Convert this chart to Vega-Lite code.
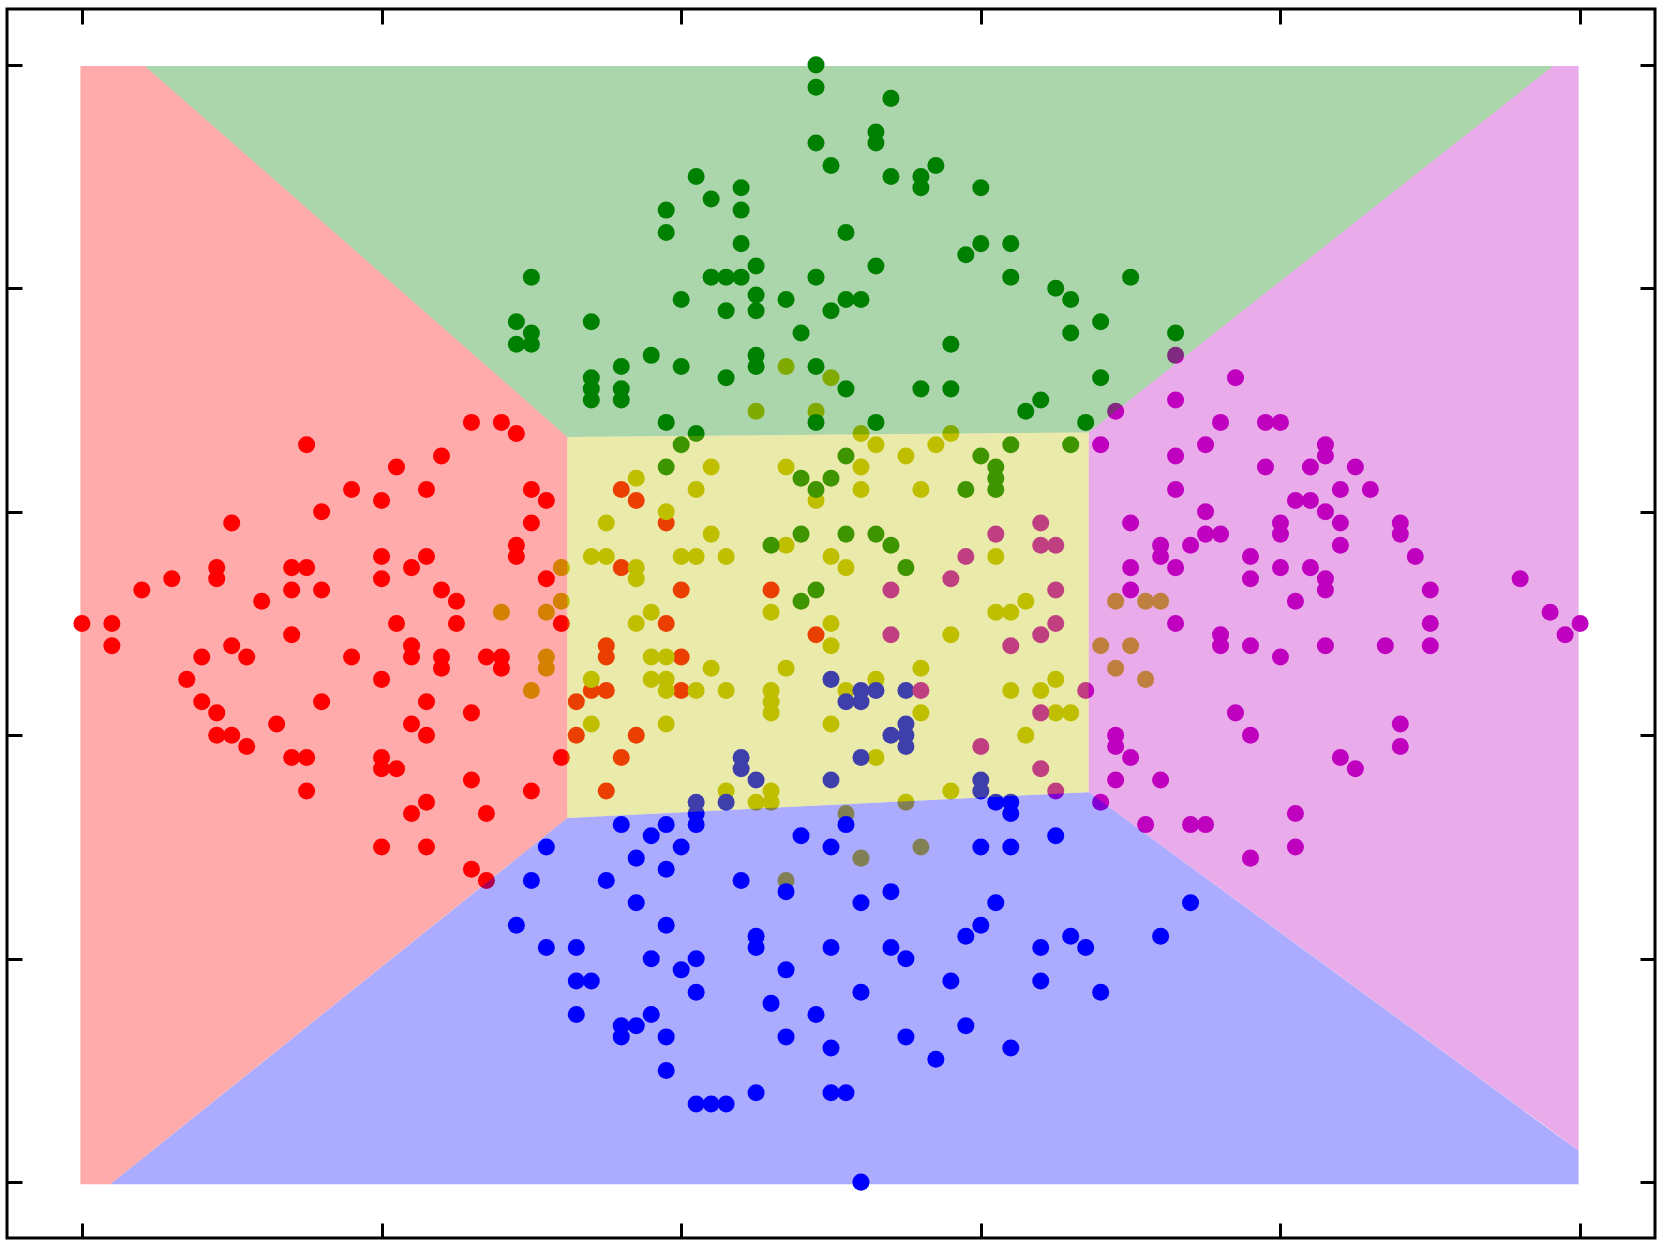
{
"$schema":"https://vega.github.io/schema/vega-lite/v6.json",
"width":1648,"height":1229,
"autosize":{"type":"none"},
"padding":{"left":7,"top":9,"right":6,"bottom":6},
"background":"white",
"config":{"view":{"stroke":"black","strokeWidth":3}},
"datasets":{
"regions":[
{"c":"r","x":-0.1,"t":99.9,"b":-0.2},{"c":"r","x":1.9,"t":99.9,"b":-0.2},{"c":"r","x":4.2,"t":99.9,"b":2.3},{"c":"r","x":32.4,"t":66.7,"b":32.6},
{"c":"g","x":4.2,"t":99.9,"b":99.9},{"c":"g","x":32.4,"t":99.9,"b":66.7},{"c":"g","x":67.2,"t":99.9,"b":67.1},{"c":"g","x":98.2,"t":99.9,"b":99.9},
{"c":"m","x":67.2,"t":67.1,"b":34.9},{"c":"m","x":98.2,"t":99.9,"b":4.5},{"c":"m","x":99.9,"t":99.9,"b":2.8},
{"c":"b","x":1.9,"t":-0.2,"b":-0.2},{"c":"b","x":32.4,"t":32.6,"b":-0.2},{"c":"b","x":67.2,"t":34.9,"b":-0.2},{"c":"b","x":99.9,"t":2.8,"b":-0.2},
{"c":"y","x":32.4,"t":66.7,"b":32.6},{"c":"y","x":67.2,"t":67.1,"b":34.9}
],
"pts":[
{"x":26,"y":68,"c":"r"},{"x":28,"y":68,"c":"r"},{"x":29,"y":67,"c":"r"},{"x":15,"y":66,"c":"r"},{"x":21,"y":64,"c":"r"},{"x":18,"y":62,"c":"r"},{"x":20,"y":61,"c":"r"},{"x":16,"y":60,"c":"r"},{"x":10,"y":59,"c":"r"},{"x":20,"y":56,"c":"r"},{"x":9,"y":55,"c":"r"},{"x":9,"y":54,"c":"r"},{"x":14,"y":55,"c":"r"},{"x":15,"y":55,"c":"r"},{"x":20,"y":54,"c":"r"},{"x":22,"y":55,"c":"r"},{"x":6,"y":54,"c":"r"},{"x":4,"y":53,"c":"r"},{"x":14,"y":53,"c":"r"},{"x":16,"y":53,"c":"r"},{"x":12,"y":52,"c":"r"},{"x":0,"y":50,"c":"r"},{"x":2,"y":50,"c":"r"},{"x":2,"y":48,"c":"r"},{"x":14,"y":49,"c":"r"},{"x":21,"y":50,"c":"r"},{"x":10,"y":48,"c":"r"},{"x":11,"y":47,"c":"r"},{"x":8,"y":47,"c":"r"},{"x":18,"y":47,"c":"r"},{"x":22,"y":48,"c":"r"},{"x":22,"y":47,"c":"r"},{"x":7,"y":45,"c":"r"},{"x":20,"y":45,"c":"r"},{"x":8,"y":43,"c":"r"},{"x":16,"y":43,"c":"r"},{"x":9,"y":42,"c":"r"},{"x":13,"y":41,"c":"r"},{"x":9,"y":40,"c":"r"},{"x":10,"y":40,"c":"r"},{"x":11,"y":39,"c":"r"},{"x":14,"y":38,"c":"r"},{"x":15,"y":38,"c":"r"},{"x":20,"y":38,"c":"r"},{"x":20,"y":37,"c":"r"},{"x":21,"y":37,"c":"r"},{"x":15,"y":35,"c":"r"},{"x":22,"y":41,"c":"r"},{"x":22,"y":33,"c":"r"},
{"x":24,"y":65,"c":"r"},{"x":23,"y":62,"c":"r"},{"x":30,"y":62,"c":"r"},{"x":31,"y":61,"c":"r"},{"x":36,"y":62,"c":"r"},{"x":37,"y":61,"c":"r"},{"x":39,"y":59,"c":"r"},{"x":30,"y":59,"c":"r"},{"x":29,"y":57,"c":"r"},{"x":29,"y":56,"c":"r"},{"x":23,"y":56,"c":"r"},{"x":36,"y":55,"c":"r"},{"x":31,"y":54,"c":"r"},{"x":24,"y":53,"c":"r"},{"x":25,"y":52,"c":"r"},{"x":40,"y":53,"c":"r"},{"x":46,"y":53,"c":"r"},{"x":25,"y":50,"c":"r"},{"x":32,"y":50,"c":"r"},{"x":39,"y":50,"c":"r"},{"x":49,"y":49,"c":"r"},{"x":35,"y":48,"c":"r"},{"x":35,"y":47,"c":"r"},{"x":24,"y":47,"c":"r"},{"x":24,"y":46,"c":"r"},{"x":27,"y":47,"c":"r"},{"x":28,"y":47,"c":"r"},{"x":28,"y":46,"c":"r"},{"x":40,"y":47,"c":"r"},{"x":34,"y":44,"c":"r"},{"x":35,"y":44,"c":"r"},{"x":40,"y":44,"c":"r"},{"x":23,"y":43,"c":"r"},{"x":26,"y":42,"c":"r"},{"x":33,"y":43,"c":"r"},{"x":23,"y":40,"c":"r"},{"x":33,"y":40,"c":"r"},{"x":37,"y":40,"c":"r"},{"x":32,"y":38,"c":"r"},{"x":36,"y":38,"c":"r"},{"x":26,"y":36,"c":"r"},{"x":30,"y":35,"c":"r"},{"x":35,"y":35,"c":"r"},{"x":23,"y":34,"c":"r"},{"x":27,"y":33,"c":"r"},{"x":20,"y":30,"c":"r"},{"x":23,"y":30,"c":"r"},{"x":26,"y":28,"c":"r"},{"x":27,"y":27,"c":"r"},
{"x":47,"y":73,"c":"y"},{"x":45,"y":69,"c":"y"},{"x":49,"y":69,"c":"y"},{"x":50,"y":72,"c":"y"},{"x":42,"y":64,"c":"y"},{"x":47,"y":64,"c":"y"},{"x":37,"y":63,"c":"y"},{"x":41,"y":62,"c":"y"},{"x":49,"y":61,"c":"y"},{"x":39,"y":60,"c":"y"},{"x":35,"y":59,"c":"y"},{"x":42,"y":58,"c":"y"},{"x":47,"y":57,"c":"y"},{"x":34,"y":56,"c":"y"},{"x":35,"y":56,"c":"y"},{"x":37,"y":55,"c":"y"},{"x":37,"y":54,"c":"y"},{"x":40,"y":56,"c":"y"},{"x":41,"y":56,"c":"y"},{"x":43,"y":56,"c":"y"},{"x":32,"y":55,"c":"y"},{"x":32,"y":52,"c":"y"},{"x":28,"y":51,"c":"y"},{"x":31,"y":51,"c":"y"},{"x":38,"y":51,"c":"y"},{"x":46,"y":51,"c":"y"},{"x":37,"y":50,"c":"y"},{"x":31,"y":47,"c":"y"},{"x":31,"y":46,"c":"y"},{"x":38,"y":47,"c":"y"},{"x":39,"y":47,"c":"y"},{"x":42,"y":46,"c":"y"},{"x":47,"y":46,"c":"y"},{"x":38,"y":45,"c":"y"},{"x":39,"y":45,"c":"y"},{"x":39,"y":44,"c":"y"},{"x":34,"y":45,"c":"y"},{"x":30,"y":44,"c":"y"},{"x":41,"y":44,"c":"y"},{"x":43,"y":44,"c":"y"},{"x":46,"y":44,"c":"y"},{"x":46,"y":43,"c":"y"},{"x":46,"y":42,"c":"y"},{"x":34,"y":41,"c":"y"},{"x":39,"y":41,"c":"y"},{"x":43,"y":35,"c":"y"},{"x":46,"y":35,"c":"y"},{"x":45,"y":34,"c":"y"},{"x":46,"y":34,"c":"y"},
{"x":52,"y":67,"c":"y"},{"x":58,"y":67,"c":"y"},{"x":53,"y":66,"c":"y"},{"x":57,"y":66,"c":"y"},{"x":55,"y":65,"c":"y"},{"x":52,"y":64,"c":"y"},{"x":52,"y":62,"c":"y"},{"x":56,"y":62,"c":"y"},{"x":50,"y":56,"c":"y"},{"x":51,"y":55,"c":"y"},{"x":61,"y":56,"c":"y"},{"x":63,"y":52,"c":"y"},{"x":61,"y":51,"c":"y"},{"x":62,"y":51,"c":"y"},{"x":69,"y":52,"c":"y"},{"x":71,"y":52,"c":"y"},{"x":72,"y":52,"c":"y"},{"x":50,"y":50,"c":"y"},{"x":50,"y":48,"c":"y"},{"x":58,"y":49,"c":"y"},{"x":68,"y":48,"c":"y"},{"x":70,"y":48,"c":"y"},{"x":69,"y":46,"c":"y"},{"x":71,"y":45,"c":"y"},{"x":51,"y":44,"c":"y"},{"x":53,"y":45,"c":"y"},{"x":56,"y":46,"c":"y"},{"x":56,"y":42,"c":"y"},{"x":62,"y":44,"c":"y"},{"x":64,"y":44,"c":"y"},{"x":65,"y":45,"c":"y"},{"x":65,"y":42,"c":"y"},{"x":66,"y":42,"c":"y"},{"x":50,"y":41,"c":"y"},{"x":63,"y":40,"c":"y"},{"x":53,"y":38,"c":"y"},{"x":58,"y":35,"c":"y"},{"x":55,"y":34,"c":"y"},{"x":51,"y":33,"c":"y"},{"x":47,"y":27,"c":"y"},{"x":52,"y":29,"c":"y"},{"x":56,"y":30,"c":"y"},
{"x":49,"y":100,"c":"g"},{"x":49,"y":98,"c":"g"},{"x":49,"y":93,"c":"g"},{"x":41,"y":90,"c":"g"},{"x":44,"y":89,"c":"g"},{"x":42,"y":88,"c":"g"},{"x":39,"y":87,"c":"g"},{"x":44,"y":87,"c":"g"},{"x":39,"y":85,"c":"g"},{"x":44,"y":84,"c":"g"},{"x":45,"y":82,"c":"g"},{"x":30,"y":81,"c":"g"},{"x":42,"y":81,"c":"g"},{"x":43,"y":81,"c":"g"},{"x":44,"y":81,"c":"g"},{"x":49,"y":81,"c":"g"},{"x":40,"y":79,"c":"g"},{"x":45,"y":79.4,"c":"g"},{"x":45,"y":78,"c":"g"},{"x":47,"y":79,"c":"g"},{"x":43,"y":78,"c":"g"},{"x":29,"y":77,"c":"g"},{"x":34,"y":77,"c":"g"},{"x":30,"y":76,"c":"g"},{"x":48,"y":76,"c":"g"},{"x":29,"y":75,"c":"g"},{"x":30,"y":75,"c":"g"},{"x":38,"y":74,"c":"g"},{"x":36,"y":73,"c":"g"},{"x":40,"y":73,"c":"g"},{"x":45,"y":74,"c":"g"},{"x":45,"y":73,"c":"g"},{"x":49,"y":73,"c":"g"},{"x":34,"y":72,"c":"g"},{"x":34,"y":71,"c":"g"},{"x":34,"y":70,"c":"g"},{"x":36,"y":71,"c":"g"},{"x":36,"y":70,"c":"g"},{"x":43,"y":72,"c":"g"},{"x":39,"y":68,"c":"g"},{"x":41,"y":67,"c":"g"},{"x":49,"y":68,"c":"g"},
{"x":54,"y":97,"c":"g"},{"x":53,"y":94,"c":"g"},{"x":53,"y":93,"c":"g"},{"x":50,"y":91,"c":"g"},{"x":54,"y":90,"c":"g"},{"x":56,"y":90,"c":"g"},{"x":56,"y":89,"c":"g"},{"x":57,"y":91,"c":"g"},{"x":60,"y":89,"c":"g"},{"x":51,"y":85,"c":"g"},{"x":60,"y":84,"c":"g"},{"x":59,"y":83,"c":"g"},{"x":62,"y":84,"c":"g"},{"x":53,"y":82,"c":"g"},{"x":62,"y":81,"c":"g"},{"x":70,"y":81,"c":"g"},{"x":65,"y":80,"c":"g"},{"x":66,"y":79,"c":"g"},{"x":51,"y":79,"c":"g"},{"x":52,"y":79,"c":"g"},{"x":50,"y":78,"c":"g"},{"x":68,"y":77,"c":"g"},{"x":66,"y":76,"c":"g"},{"x":73,"y":76,"c":"g"},{"x":58,"y":75,"c":"g"},{"x":51,"y":71,"c":"g"},{"x":56,"y":71,"c":"g"},{"x":58,"y":71,"c":"g"},{"x":68,"y":72,"c":"g"},{"x":64,"y":70,"c":"g"},{"x":63,"y":69,"c":"g"},{"x":67,"y":68,"c":"g"},{"x":53,"y":68,"c":"g"},
{"x":40,"y":66,"c":"g"},{"x":39,"y":64,"c":"g"},{"x":48,"y":63,"c":"g"},{"x":49,"y":62,"c":"g"},{"x":48,"y":58,"c":"g"},{"x":46,"y":57,"c":"g"},{"x":49,"y":53,"c":"g"},{"x":48,"y":52,"c":"g"},{"x":62,"y":66,"c":"g"},{"x":66,"y":66,"c":"g"},{"x":51,"y":65,"c":"g"},{"x":60,"y":65,"c":"g"},{"x":61,"y":64,"c":"g"},{"x":61,"y":63,"c":"g"},{"x":61,"y":62,"c":"g"},{"x":50,"y":63,"c":"g"},{"x":59,"y":62,"c":"g"},{"x":51,"y":58,"c":"g"},{"x":53,"y":58,"c":"g"},{"x":54,"y":57,"c":"g"},{"x":55,"y":55,"c":"g"},
{"x":44,"y":38,"c":"b"},{"x":44,"y":37,"c":"b"},{"x":45,"y":36,"c":"b"},{"x":41,"y":34,"c":"b"},{"x":43,"y":34,"c":"b"},{"x":36,"y":32,"c":"b"},{"x":38,"y":31,"c":"b"},{"x":39,"y":32,"c":"b"},{"x":41,"y":33,"c":"b"},{"x":41,"y":32,"c":"b"},{"x":48,"y":31,"c":"b"},
{"x":50,"y":45,"c":"b"},{"x":52,"y":44,"c":"b"},{"x":53,"y":44,"c":"b"},{"x":51,"y":43,"c":"b"},{"x":52,"y":43,"c":"b"},{"x":55,"y":44,"c":"b"},{"x":55,"y":41,"c":"b"},{"x":54,"y":40,"c":"b"},{"x":55,"y":40,"c":"b"},{"x":55,"y":39,"c":"b"},{"x":52,"y":38,"c":"b"},{"x":50,"y":36,"c":"b"},{"x":60,"y":36,"c":"b"},{"x":60,"y":35,"c":"b"},{"x":61,"y":34,"c":"b"},{"x":62,"y":34,"c":"b"},{"x":62,"y":33,"c":"b"},{"x":51,"y":32,"c":"b"},{"x":65,"y":31,"c":"b"},
{"x":31,"y":30,"c":"b"},{"x":30,"y":27,"c":"b"},{"x":35,"y":27,"c":"b"},{"x":40,"y":30,"c":"b"},{"x":37,"y":29,"c":"b"},{"x":39,"y":28,"c":"b"},{"x":44,"y":27,"c":"b"},{"x":47,"y":26,"c":"b"},{"x":37,"y":25,"c":"b"},{"x":39,"y":23,"c":"b"},{"x":29,"y":23,"c":"b"},{"x":31,"y":21,"c":"b"},{"x":33,"y":21,"c":"b"},{"x":45,"y":22,"c":"b"},{"x":45,"y":21,"c":"b"},{"x":38,"y":20,"c":"b"},{"x":41,"y":20,"c":"b"},{"x":40,"y":19,"c":"b"},{"x":47,"y":19,"c":"b"},{"x":33,"y":18,"c":"b"},{"x":34,"y":18,"c":"b"},{"x":41,"y":17,"c":"b"},{"x":46,"y":16,"c":"b"},{"x":49,"y":15,"c":"b"},{"x":33,"y":15,"c":"b"},{"x":38,"y":15,"c":"b"},{"x":36,"y":14,"c":"b"},{"x":37,"y":14,"c":"b"},{"x":36,"y":13,"c":"b"},{"x":39,"y":13,"c":"b"},{"x":47,"y":13,"c":"b"},{"x":39,"y":10,"c":"b"},{"x":45,"y":8,"c":"b"},{"x":41,"y":7,"c":"b"},{"x":42,"y":7,"c":"b"},{"x":43,"y":7,"c":"b"},
{"x":50,"y":30,"c":"b"},{"x":60,"y":30,"c":"b"},{"x":62,"y":30,"c":"b"},{"x":54,"y":26,"c":"b"},{"x":52,"y":25,"c":"b"},{"x":61,"y":25,"c":"b"},{"x":60,"y":23,"c":"b"},{"x":59,"y":22,"c":"b"},{"x":50,"y":21,"c":"b"},{"x":54,"y":21,"c":"b"},{"x":55,"y":20,"c":"b"},{"x":64,"y":21,"c":"b"},{"x":66,"y":22,"c":"b"},{"x":67,"y":21,"c":"b"},{"x":72,"y":22,"c":"b"},{"x":74,"y":25,"c":"b"},{"x":58,"y":18,"c":"b"},{"x":64,"y":18,"c":"b"},{"x":68,"y":17,"c":"b"},{"x":52,"y":17,"c":"b"},{"x":55,"y":13,"c":"b"},{"x":59,"y":14,"c":"b"},{"x":62,"y":12,"c":"b"},{"x":50,"y":12,"c":"b"},{"x":57,"y":11,"c":"b"},{"x":50,"y":8,"c":"b"},{"x":51,"y":8,"c":"b"},{"x":52,"y":0,"c":"b"},
{"x":73,"y":74,"c":"m"},{"x":73,"y":70,"c":"m"},{"x":69,"y":69,"c":"m"},{"x":76,"y":68,"c":"m"},{"x":77,"y":72,"c":"m"},{"x":79,"y":68,"c":"m"},{"x":80,"y":68,"c":"m"},
{"x":68,"y":66,"c":"m"},{"x":73,"y":65,"c":"m"},{"x":75,"y":66,"c":"m"},{"x":73,"y":62,"c":"m"},{"x":75,"y":60,"c":"m"},{"x":64,"y":59,"c":"m"},{"x":70,"y":59,"c":"m"},{"x":61,"y":58,"c":"m"},{"x":64,"y":57,"c":"m"},{"x":65,"y":57,"c":"m"},{"x":75,"y":58,"c":"m"},{"x":72,"y":57,"c":"m"},{"x":72,"y":56,"c":"m"},{"x":74,"y":57,"c":"m"},{"x":70,"y":55,"c":"m"},{"x":73,"y":55,"c":"m"},{"x":70,"y":53,"c":"m"},{"x":59,"y":56,"c":"m"},{"x":58,"y":54,"c":"m"},{"x":54,"y":53,"c":"m"},{"x":65,"y":53,"c":"m"},{"x":73,"y":50,"c":"m"},{"x":54,"y":49,"c":"m"},{"x":64,"y":49,"c":"m"},{"x":65,"y":50,"c":"m"},{"x":62,"y":48,"c":"m"},{"x":56,"y":44,"c":"m"},{"x":67,"y":44,"c":"m"},{"x":64,"y":42,"c":"m"},{"x":60,"y":39,"c":"m"},{"x":69,"y":40,"c":"m"},{"x":69,"y":39,"c":"m"},{"x":70,"y":38,"c":"m"},{"x":64,"y":37,"c":"m"},{"x":69,"y":36,"c":"m"},{"x":72,"y":36,"c":"m"},{"x":65,"y":35,"c":"m"},{"x":68,"y":34,"c":"m"},{"x":71,"y":32,"c":"m"},{"x":74,"y":32,"c":"m"},{"x":75,"y":32,"c":"m"},
{"x":83,"y":66,"c":"m"},{"x":83,"y":65,"c":"m"},{"x":79,"y":64,"c":"m"},{"x":82,"y":64,"c":"m"},{"x":85,"y":64,"c":"m"},{"x":84,"y":62,"c":"m"},{"x":86,"y":62,"c":"m"},{"x":81,"y":61,"c":"m"},{"x":82,"y":61,"c":"m"},{"x":83,"y":60,"c":"m"},{"x":80,"y":59,"c":"m"},{"x":80,"y":58,"c":"m"},{"x":76,"y":58,"c":"m"},{"x":84,"y":59,"c":"m"},{"x":84,"y":57,"c":"m"},{"x":88,"y":59,"c":"m"},{"x":88,"y":58,"c":"m"},{"x":89,"y":56,"c":"m"},{"x":78,"y":56,"c":"m"},{"x":78,"y":54,"c":"m"},{"x":80,"y":55,"c":"m"},{"x":82,"y":55,"c":"m"},{"x":83,"y":54,"c":"m"},{"x":83,"y":53,"c":"m"},{"x":81,"y":52,"c":"m"},{"x":90,"y":53,"c":"m"},{"x":96,"y":54,"c":"m"},{"x":98,"y":51,"c":"m"},{"x":100,"y":50,"c":"m"},{"x":99,"y":49,"c":"m"},{"x":90,"y":50,"c":"m"},{"x":90,"y":48,"c":"m"},{"x":76,"y":49,"c":"m"},{"x":76,"y":48,"c":"m"},{"x":78,"y":48,"c":"m"},{"x":83,"y":48,"c":"m"},{"x":87,"y":48,"c":"m"},{"x":80,"y":47,"c":"m"},{"x":77,"y":42,"c":"m"},{"x":78,"y":40,"c":"m"},{"x":88,"y":41,"c":"m"},{"x":88,"y":39,"c":"m"},{"x":84,"y":38,"c":"m"},{"x":85,"y":37,"c":"m"},{"x":81,"y":33,"c":"m"},{"x":78,"y":29,"c":"m"},{"x":81,"y":30,"c":"m"}
]
},
"layer":[
{
"data":{"name":"pts"},
"mark":{"type":"circle","size":290,"opacity":1,"strokeWidth":0},
"encoding":{
"x":{"field":"x","type":"quantitative","scale":{"domain":[-5,105],"nice":false,"zero":false},
"axis":{"orient":"bottom","values":[0,20,40,60,80,100],"labels":false,"title":null,"domain":false,"grid":false,"ticks":true,"tickSize":-15,"tickWidth":3,"tickColor":"black"}},
"y":{"field":"y","type":"quantitative","scale":{"domain":[-5,105],"nice":false,"zero":false},
"axis":{"orient":"left","values":[0,20,40,60,80,100],"labels":false,"title":null,"domain":false,"grid":false,"ticks":true,"tickSize":-15,"tickWidth":3,"tickColor":"black"}},
"color":{"field":"c","type":"nominal","scale":{"domain":["r","y","g","b","m"],"range":["#ff0000","#bfbf00","#008000","#0000ff","#bf00bf"]},"legend":null}
}
},
{
"data":{"name":"regions"},
"mark":{"type":"area","opacity":0.33,"orient":"vertical","interpolate":"linear"},
"encoding":{
"x":{"field":"x","type":"quantitative","scale":{"domain":[-5,105],"nice":false,"zero":false},
"axis":{"orient":"top","values":[0,20,40,60,80,100],"labels":false,"title":null,"domain":false,"grid":false,"ticks":true,"tickSize":-15,"tickWidth":3,"tickColor":"black"}},
"y":{"field":"t","type":"quantitative","stack":null,"scale":{"domain":[-5,105],"nice":false,"zero":false},
"axis":{"orient":"right","values":[0,20,40,60,80,100],"labels":false,"title":null,"domain":false,"grid":false,"ticks":true,"tickSize":-15,"tickWidth":3,"tickColor":"black"}},
"y2":{"field":"b"},
"color":{"field":"c","type":"nominal","legend":null}
}
}
],
"resolve":{"axis":{"x":"independent","y":"independent"}}
}
